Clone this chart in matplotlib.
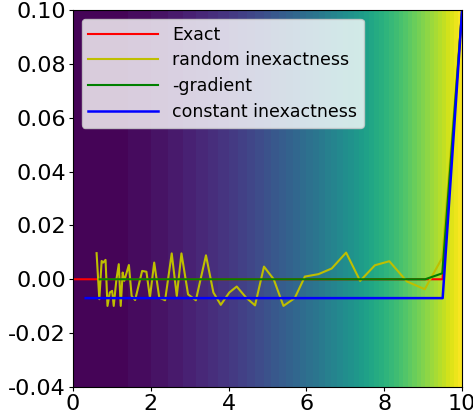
import numpy as np
import matplotlib
matplotlib.use("Agg")
import matplotlib.pyplot as plt

plt.rcParams["axes.unicode_minus"] = False

# Exact
x_exact = [0.0, 9.5, 9.5, 10.0]
y_exact = [0.0, 0.0, 0.001, 0.1]

# random inexactness
x_rand = [0.61, 0.68, 0.74, 0.78, 0.84, 0.89, 0.95, 1.01, 1.05, 1.12, 1.18,
          1.23, 1.28, 1.32, 1.44, 1.51, 1.60, 1.78, 1.89, 1.98, 2.09, 2.22,
          2.37, 2.54, 2.67, 2.79, 2.96, 3.16, 3.42, 3.61, 3.80, 4.02, 4.21,
          4.45, 4.68, 4.91, 5.16, 5.41, 5.70, 5.96, 6.31, 6.65, 7.02, 7.38,
          7.76, 8.13, 8.58, 9.04, 9.49, 10.0]
y_rand = [0.0097, -0.0074, 0.0068, 0.0062, 0.0072, -0.0099, -0.0049, -0.0043,
          -0.0099, 0.0, 0.0056, -0.0099, 0.0025, -0.0006, 0.0053, -0.0062,
          -0.0077, 0.0031, 0.0028, -0.0068, 0.0062, -0.0068, -0.0078, 0.0096,
          -0.0062, 0.0096, -0.0056, -0.0078, 0.0089, -0.0049, -0.0095, -0.0049,
          -0.0027, -0.0068, -0.0097, 0.0047, 0.0, -0.0099, -0.0070, 0.0010,
          0.0019, 0.0040, 0.0099, -0.0006, 0.0052, 0.0067, -0.0008, -0.0037,
          0.0080, 0.1]

# -gradient
x_grad = [0.69, 9.05, 9.49, 10.0]
y_grad = [0.0, 0.0, 0.0022, 0.1]

# constant inexactness
x_const = [0.33, 9.5, 10.0]
y_const = [-0.007, -0.007, 0.1]

# background
gx = np.linspace(0, 10, 400)
gy = np.linspace(-0.04, 0.1, 20)
GX, GY = np.meshgrid(gx, gy)
field = GX ** 2

fig = plt.figure(figsize=(4.73, 4.15), dpi=100)
ax = fig.add_axes([0.154, 0.0675, 0.823, 0.9085])
ax.contourf(GX, GY, field, levels=np.arange(0, 101, 2), cmap="viridis")

ax.plot(x_exact, y_exact, color="r", lw=1.5, label="Exact")
ax.plot(x_rand, y_rand, color="y", lw=1.5, label="random inexactness")
ax.plot(x_grad, y_grad, color="g", lw=1.5, label="-gradient")
ax.plot(x_const, y_const, color="b", lw=1.8, label="constant inexactness")

ax.set_xlim(0, 10)
ax.set_ylim(-0.04, 0.1)
ax.set_xticks([0, 2, 4, 6, 8, 10])
ax.set_yticks([-0.04, -0.02, 0.0, 0.02, 0.04, 0.06, 0.08, 0.10])
ax.yaxis.set_major_formatter(matplotlib.ticker.FormatStrFormatter("%.2f"))
ax.tick_params(labelsize=16, length=3, pad=2)
ax.legend(loc="upper left", fontsize=12.5, handlelength=4, labelspacing=0.45)

fig.savefig("out.png", dpi=100)
